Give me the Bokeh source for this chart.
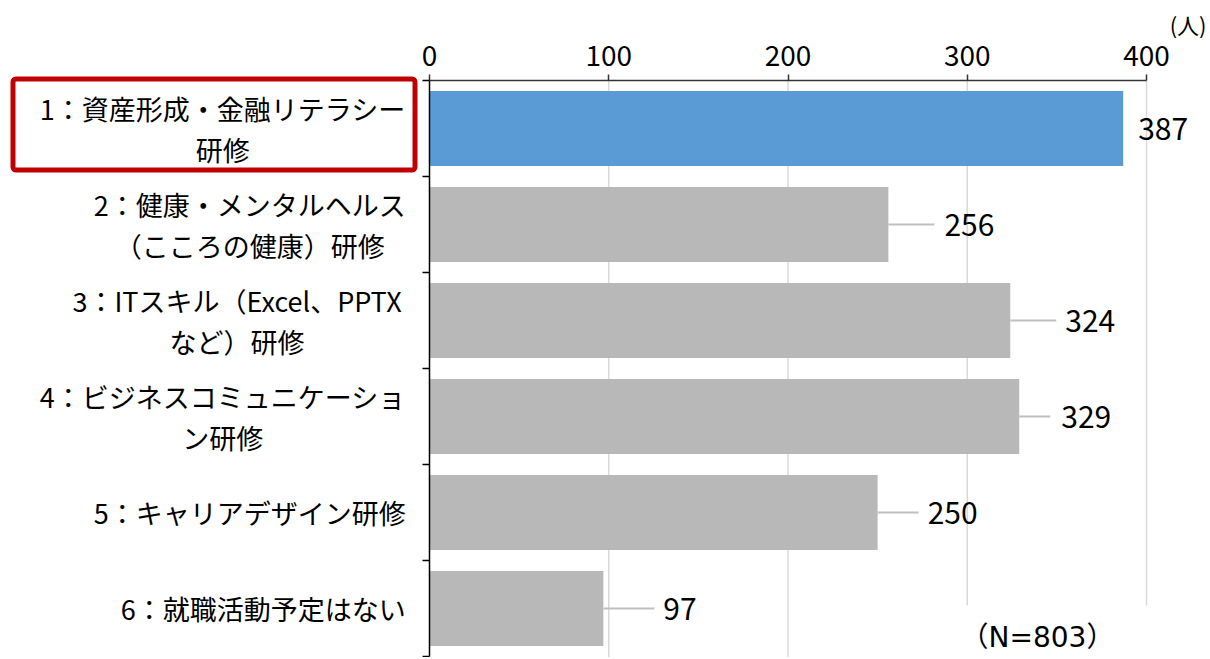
from bokeh.plotting import figure
from bokeh.models import Range1d, FixedTicker, Label, BoxAnnotation, ColumnDataSource
from bokeh.embed import file_html
from bokeh.resources import INLINE

# ---------------- data ----------------
category_lines = [
    ["1：資産形成・金融リテラシー", "研修"],
    ["2：健康・メンタルヘルス", "（こころの健康）研修"],
    ["3：ITスキル（Excel、PPTX", "など）研修"],
    ["4：ビジネスコミュニケーショ", "ン研修"],
    ["5：キャリアデザイン研修"],
    ["6：就職活動予定はない"],
]
values = [387, 256, 324, 329, 250, 97]
bar_colors = ["#5B9BD5", "#B8B8B8", "#B8B8B8", "#B8B8B8", "#B8B8B8", "#B8B8B8"]
x_ticks = [0, 100, 200, 300, 400]
unit_text = "(人)"
note_text = "（N=803）"

# ---------------- layout (pixel geometry) ----------------
FONT = "Noto Sans CJK JP"
NOTE_FONT = "DejaVu Sans, Noto Sans CJK JP"
W, H = 1208, 657
X0_PX = 429                 # pixel of value 0
PX_PER_UNIT = 717 / 400     # pixels per value unit
TOP_PX = 80                 # pixel of the top axis line
BAND_PX = 96                # pixel height of one category band
n = len(values)


def dx(px):
    return (px - X0_PX) / PX_PER_UNIT


def dy(px):
    return (px - TOP_PX) / BAND_PX


leader_px = [0, 46, 46, 31, 41, 51]
label_px = [15, 56, 55, 42, 50, 60]

p = figure(width=W, height=H,
           x_range=Range1d(dx(0), dx(W)), y_range=Range1d(dy(H), dy(0)),
           x_axis_location="above",
           output_backend="svg", toolbar_location=None, min_border=0)
p.outline_line_color = None
p.background_fill_color = "white"
p.border_fill_color = "white"
p.grid.visible = False

xa = p.xaxis[0]
xa.fixed_location = 0
xa.ticker = FixedTicker(ticks=x_ticks)
xa.bounds = (x_ticks[0], x_ticks[-1])
xa.axis_line_color = "#333333"
xa.axis_line_width = 1.5
xa.major_tick_line_color = "#333333"
xa.major_tick_line_width = 1.5
xa.major_tick_out = 6
xa.major_tick_in = 0
xa.minor_tick_line_color = None
xa.major_label_standoff = 9
xa.major_label_text_font = FONT
xa.major_label_text_font_size = "28px"
xa.major_label_text_color = "#000000"

ya = p.yaxis[0]
ya.fixed_location = 0
ya.ticker = FixedTicker(ticks=list(range(n + 1)))
ya.bounds = (0, n)
ya.axis_line_color = "#000000"
ya.axis_line_width = 1.5
ya.major_tick_line_color = "#000000"
ya.major_tick_line_width = 1.5
ya.major_tick_out = 7
ya.major_tick_in = 0
ya.minor_tick_line_color = None
ya.major_label_overrides = {i: "" for i in range(n + 1)}
ya.major_label_text_font_size = "1px"
ya.major_label_standoff = 0

# vertical gridlines
grid_x = [t for t in x_ticks if t > 0]
p.segment(x0=grid_x, y0=[0] * len(grid_x), x1=grid_x, y1=[dy(H)] * len(grid_x),
          line_color="#D9D9D9", line_width=1.5)

ys = [i + 0.5 for i in range(n)]
src = ColumnDataSource(dict(y=ys, v=values, c=bar_colors))
p.hbar(y="y", left=0, right="v", height=0.78, source=src,
       fill_color="c", line_color=None)

# leader lines
seg_x0, seg_x1, seg_y = [], [], []
for v, y, lp in zip(values, ys, leader_px):
    if lp > 0:
        seg_x0.append(v)
        seg_x1.append(v + lp / PX_PER_UNIT)
        seg_y.append(y)
p.segment(x0=seg_x0, y0=seg_y, x1=seg_x1, y1=seg_y,
          line_color="#BFBFBF", line_width=2)

# value labels
for v, y, off in zip(values, ys, label_px):
    p.add_layout(Label(x=v, y=y, x_offset=off, text=str(v),
                       text_font=FONT, text_font_size="30px",
                       text_color="#000000", text_align="left",
                       text_baseline="middle"))

# category labels: right-aligned blocks with centred lines
CAT_FS = 27
RIGHT_EDGE_PX = 405
line_gap = 20.5 / BAND_PX


def est_width(s):
    w = 0.0
    for ch in s:
        w += 1.0 if ord(ch) > 0x2000 else 0.54
    return w * CAT_FS


for i, lines in enumerate(category_lines):
    block_w = max(est_width(s) for s in lines)
    cx = dx(RIGHT_EDGE_PX - block_w / 2)
    offs = [0.0] if len(lines) == 1 else [-line_gap, line_gap]
    for s, o in zip(lines, offs):
        p.add_layout(Label(x=cx, y=ys[i] + o, text=s, text_font=FONT,
                           text_font_size=f"{CAT_FS}px",
                           text_color="#000000", text_align="center",
                           text_baseline="middle"))

# red highlight box around the first category
p.add_layout(BoxAnnotation(left=dx(12.5), right=dx(414.5),
                           top=dy(78.5), bottom=dy(169.5),
                           fill_alpha=0, line_color="#C00000", line_alpha=1,
                           line_width=5, border_radius=3))

# unit label
p.add_layout(Label(x=dx(1206), y=dy(23), text=unit_text,
                   text_font=FONT, text_font_size="22px",
                   text_color="#000000", text_align="right",
                   text_baseline="middle"))

# N note with white cover over the gridlines
p.add_layout(BoxAnnotation(left=dx(962), right=dx(W), top=dy(605), bottom=dy(H),
                           fill_color="white", fill_alpha=1,
                           line_color=None))
p.add_layout(Label(x=dx(1037), y=dy(637), text=note_text,
                   text_font=NOTE_FONT, text_font_size="28px",
                   text_color="#000000", text_align="center",
                   text_baseline="middle"))

open("out.html", "w").write(file_html(p, INLINE))
